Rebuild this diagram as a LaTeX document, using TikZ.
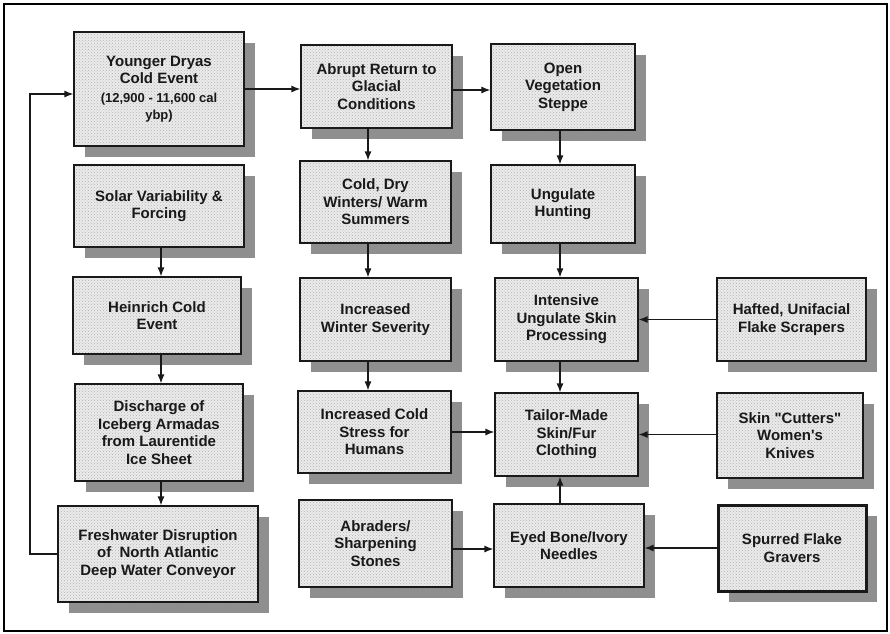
\documentclass[tikz,border=0pt]{standalone}
\usepackage{fontspec}
\setmainfont{Liberation Sans}[Ligatures=TeXOff]
\usetikzlibrary{shadows,patterns,arrows.meta}
\newcommand\subfnt{\fontsize{13}{16}\selectfont}
\begin{document}
\begin{tikzpicture}[x=1pt,y=-1pt,
  box/.style={drop shadow={shadow xshift=11pt, shadow yshift=-11pt, fill=black!44, opacity=1},
    preaction={fill=black!8},
    preaction={pattern=crosshatch dots, pattern color=black!30},
    draw=black!90, line width=1.2pt,
    align=center, font=\fontsize{15}{17.5}\selectfont\bfseries, text=black!90, inner sep=2pt},
  arr/.style={draw=black!90, line width=1.2pt, -{Latex[length=9pt,width=7pt]}}]
\useasboundingbox (0,0) rectangle (890,633);
\fill[white] (0,0) rectangle (890,633);
\draw[line width=1.3pt] (4,4) rectangle (887,631);

% column 1
\node[box, minimum width=170pt, minimum height=114pt] (yd) at (159,89)
  {Younger Dryas\\Cold Event\\[1pt]\subfnt (12,900 - 11,600 cal\\\subfnt ybp)};
\node[box, minimum width=170pt, minimum height=82pt] (solar) at (159,206)
  {Solar Variability \&\\Forcing};
\node[box, minimum width=168pt, minimum height=77pt] (heinrich) at (157,315.5)
  {Heinrich Cold\\Event};
\node[box, minimum width=168pt, minimum height=97pt] (discharge) at (159,432.5)
  {Discharge of\\Iceberg Armadas\\from Laurentide\\Ice Sheet};
\node[box, minimum width=200pt, minimum height=96pt] (fresh) at (158,554)
  {Freshwater Disruption\\of\ \ North Atlantic\\Deep Water Conveyor};

% column 2
\node[box, minimum width=151pt, minimum height=83pt] (abrupt) at (376.5,86.5)
  {Abrupt Return to\\Glacial\\Conditions};
\node[box, minimum width=151pt, minimum height=82pt] (colddry) at (375.5,202)
  {Cold, Dry\\Winters/ Warm\\Summers};
\node[box, minimum width=151pt, minimum height=83pt] (winter) at (375.5,319.5)
  {Increased\\Winter Severity};
\node[box, minimum width=153pt, minimum height=82pt] (stress) at (374.5,432)
  {Increased Cold\\Stress for\\Humans};
\node[box, minimum width=153pt, minimum height=87pt] (abraders) at (375.5,543.5)
  {Abraders/\\Sharpening\\Stones};

% column 3
\node[box, minimum width=144pt, minimum height=86pt] (openveg) at (563,87)
  {Open\\Vegetation\\Steppe};
\node[box, minimum width=144pt, minimum height=78pt] (ungulate) at (563,204)
  {Ungulate\\Hunting};
\node[box, minimum width=143pt, minimum height=83pt] (intensive) at (566.5,319.5)
  {Intensive\\Ungulate Skin\\Processing};
\node[box, minimum width=143pt, minimum height=83pt] (tailor) at (566.5,434.5)
  {Tailor-Made\\Skin/Fur\\Clothing};
\node[box, minimum width=150pt, minimum height=83pt] (eyed) at (569,545.5)
  {Eyed Bone/Ivory\\Needles};

% column 4
\node[box, minimum width=149pt, minimum height=83pt] (hafted) at (791.5,319.5)
  {Hafted, Unifacial\\Flake Scrapers};
\node[box, minimum width=146pt, minimum height=85pt] (cutters) at (790,435.5)
  {Skin "Cutters"\\Women's\\Knives};
\node[box, line width=3pt, minimum width=148pt, minimum height=86pt] (spurred) at (792,548)
  {Spurred Flake\\Gravers};

% helper coordinates
\coordinate (v1) at (161,0);
\coordinate (v2) at (368,0);
\coordinate (v3) at (560,0);
\coordinate (hov) at (0,90);
\coordinate (hab) at (0,549);
\coordinate (lp) at (30,94);

% connectors
\draw[arr] (yd.east) -- (yd.east -| abrupt.west);
\draw[arr] (abrupt.east |- hov) -- (openveg.west |- hov);
\draw[arr] (abrupt.south -| v2) -- (colddry.north -| v2);
\draw[arr] (colddry.south -| v2) -- (winter.north -| v2);
\draw[arr] (winter.south -| v2) -- (stress.north -| v2);
\draw[arr] (stress.east) -- (stress.east -| tailor.west);
\draw[arr] (openveg.south -| v3) -- (ungulate.north -| v3);
\draw[arr] (ungulate.south -| v3) -- (intensive.north -| v3);
\draw[arr] (intensive.south -| v3) -- (tailor.north -| v3);
\draw[arr] (eyed.north -| v3) -- (tailor.south -| v3);
\draw[arr] (hafted.west) -- (hafted.west -| intensive.east);
\draw[arr] (cutters.west |- tailor.east) -- (tailor.east);
\draw[arr] (abraders.east |- hab) -- (eyed.west |- hab);
\draw[arr] (spurred.west) -- (spurred.west -| eyed.east);
\draw[arr] (solar.south -| v1) -- (heinrich.north -| v1);
\draw[arr] (heinrich.south -| v1) -- (discharge.north -| v1);
\draw[arr] (discharge.south -| v1) -- (fresh.north -| v1);
\draw[arr] (fresh.west) -| (lp) -- (lp -| yd.west);
\end{tikzpicture}
\end{document}
